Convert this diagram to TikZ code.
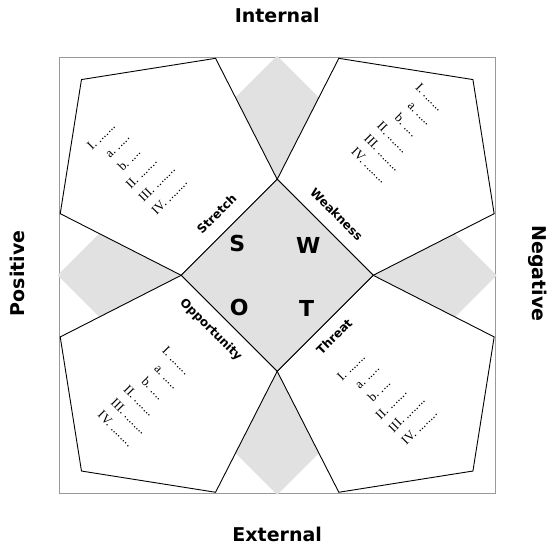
\documentclass[tikz,border=0pt]{standalone}
\usepackage{fontspec}
\newfontfamily\dvs{DejaVu Sans}
\newfontfamily\lserif{Liberation Serif}
\definecolor{shade}{HTML}{E1E1E1}
\definecolor{framegray}{HTML}{999999}
\tikzset{
  axislabel/.style={font=\dvs\bfseries\fontsize{19}{22}\selectfont, inner sep=0pt},
  quadletter/.style={font=\dvs\bfseries\fontsize{22}{26}\selectfont, inner sep=0pt},
  edgelabel/.style={font=\dvs\bfseries\fontsize{12}{14}\selectfont, inner sep=0pt},
  itemlist/.style={font=\lserif\fontsize{13}{18.2}\selectfont, align=left, inner sep=0pt, anchor=west},
  petal/.style={draw=black, fill=white, line width=0.9pt, line join=miter},
  sidediamond/.style={fill=shade},
  outerframe/.style={draw=framegray, line width=1pt}
}
\newcommand{\itemtext}{I.~.......\\\hspace*{7pt}a.~.....\\\hspace*{7pt}b.~....\\II.~.......\\III.~........\\IV.~........}
\begin{document}
\begin{tikzpicture}[x=1pt,y=1pt]
\useasboundingbox (-277.2,-274.7) rectangle (272.8,275.3);
% outer frame
\draw[outerframe] (-218,-218) rectangle (218,218);
% gray side diamonds
\fill[sidediamond] (0,219.5) -- (61.75,157.75) -- (0,96) -- (-61.75,157.75) -- cycle;
\fill[sidediamond] (0,-219.5) -- (61.75,-157.75) -- (0,-96) -- (-61.75,-157.75) -- cycle;
\fill[sidediamond] (-219.5,0) -- (-157.75,61.75) -- (-96,0) -- (-157.75,-61.75) -- cycle;
\fill[sidediamond] (219.5,0) -- (157.75,61.75) -- (96,0) -- (157.75,-61.75) -- cycle;
% pentagons
\draw[petal] (0,96) -- (-61.636,216.967) -- (-195.729,195.729) -- (-216.967,61.636) -- (-96,0) -- cycle;
\draw[petal] (0,96) -- (61.636,216.967) -- (195.729,195.729) -- (216.967,61.636) -- (96,0) -- cycle;
\draw[petal] (0,-96) -- (-61.636,-216.967) -- (-195.729,-195.729) -- (-216.967,-61.636) -- (-96,0) -- cycle;
\draw[petal] (0,-96) -- (61.636,-216.967) -- (195.729,-195.729) -- (216.967,-61.636) -- (96,0) -- cycle;
% centre diamond
\draw[petal, fill=shade] (0,96) -- (96,0) -- (0,-96) -- (-96,0) -- cycle;
% axis labels
\node[axislabel] (internal) at (0,259.6) {Internal};
\node[axislabel] (external) at (0,-259.2) {External};
\node[axislabel, rotate=90] (positive) at (-259.4,2) {Positive};
\node[axislabel, rotate=-90] (negative) at (260.4,2) {Negative};
% quadrant letters
\node[quadletter] (sletter) at (-39.9,32) {S};
\node[quadletter] (wletter) at (31.1,30.3) {W};
\node[quadletter] (oletter) at (-37.9,-32.4) {O};
\node[quadletter] (tletter) at (29.5,-33) {T};
% edge labels
\node[edgelabel, rotate=45] (stretch) at (-60.5,61.3) {Stretch};
\node[edgelabel, rotate=-45] (weakness) at (59.5,61.1) {Weakness};
\node[edgelabel, rotate=-45] (opportunity) at (-66.4,-54.7) {Opportunity};
\node[edgelabel, rotate=45] (threat) at (57,-61.4) {Threat};
% item lists
\node[itemlist, rotate=45] (listS) at (-155.9,95.1) {\itemtext};
\node[itemlist, rotate=-45] (listW) at (108.4,157.9) {\itemtext};
\node[itemlist, rotate=-45] (listO) at (-145,-105.4) {\itemtext};
\node[itemlist, rotate=45] (listT) at (94,-135.7) {\itemtext};
\end{tikzpicture}
\end{document}
